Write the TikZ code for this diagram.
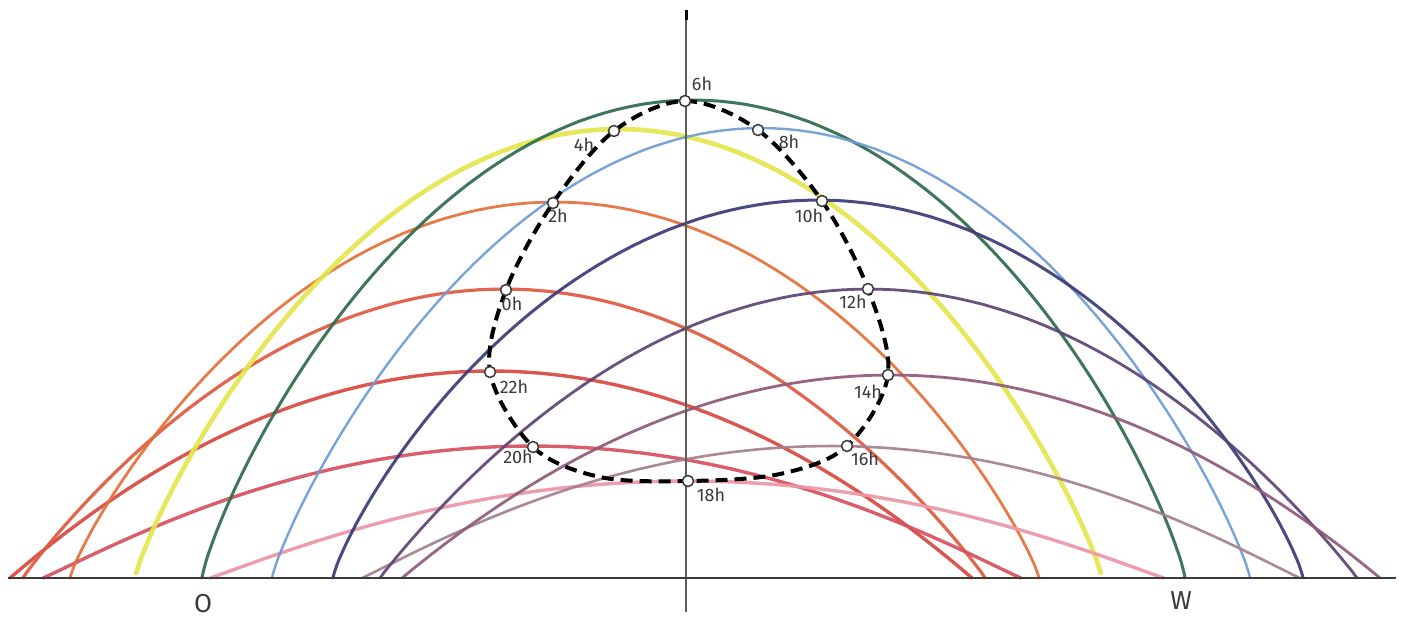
\documentclass[tikz,border=0pt]{standalone}
\usepackage{fontspec}
\setmainfont{Fira Sans}
\definecolor{cgreen}{HTML}{2F6B4C}
\definecolor{cyellow}{HTML}{E4E64C}
\definecolor{cblue}{HTML}{6D9CD4}
\definecolor{corange}{HTML}{E4703A}
\definecolor{cnavy}{HTML}{3A3B78}
\definecolor{credor}{HTML}{E05A3E}
\definecolor{cpurple}{HTML}{5C4474}
\definecolor{cred}{HTML}{D94840}
\definecolor{cmauve}{HTML}{8F5A78}
\definecolor{ccrimson}{HTML}{D8505F}
\definecolor{cgray}{HTML}{A3808F}
\definecolor{cpink}{HTML}{EC96A6}
\definecolor{caxis}{HTML}{5A6052}
\definecolor{cink}{HTML}{3A3A3A}
% #1 colour, #2 width, #3 left foot, #4 right foot, #5 height, #6 fullness exponent, #7 angle limit
\newcommand\skyarc[7]{%
  \draw[draw=#1, line width=#2, line cap=round, opacity=0.92]
    plot[domain=-#7:#7, samples=121, variable=\t]
    ({(#3+#4)/2 + (#4-#3)/2*sin(\t)}, {578 - #5*(max(cos(\t),0.00001))^(2*#6)});}
\tikzset{
  hc/.style={circle, draw=cink, line width=0.75pt, fill=white, inner sep=0pt, minimum size=5.5pt},
  hlab/.style={font=\fontsize{9}{9}\selectfont, text=cink, inner sep=0pt},
  dirlab/.style={font=\fontsize{13}{13}\selectfont, text=cink, inner sep=0pt},
  loop/.style={draw=black, line width=2pt, dash pattern=on 6pt off 3.5pt}
}
\begin{document}
\begin{tikzpicture}[x=0.5pt, y=-0.5pt]
\useasboundingbox[fill=white] (0,0) rectangle (1410,617);
% sun paths
\skyarc{cred}{1.7pt}{10}{972}{207}{1}{90}
\skyarc{credor}{1.6pt}{23}{985}{289}{0.95}{90}
\skyarc{ccrimson}{1.7pt}{43}{1021}{132}{1.05}{90}
\skyarc{corange}{1.4pt}{70}{1039}{376}{0.85}{90}
\skyarc{cyellow}{2.3pt}{135}{1102}{449}{0.85}{86}
\skyarc{cgreen}{1.5pt}{202}{1185}{478}{0.82}{90}
\skyarc{cpink}{1.7pt}{210}{1164}{97}{1.05}{90}
\skyarc{cblue}{1.2pt}{272}{1250}{450}{0.85}{90}
\skyarc{cnavy}{1.5pt}{333}{1303}{378}{0.82}{90}
\skyarc{cgray}{1.3pt}{362}{1300}{132}{1.05}{90}
\skyarc{cpurple}{1.4pt}{380}{1357}{289}{0.97}{90}
\skyarc{cmauve}{1.4pt}{402}{1380}{203}{1}{90}
% axes
\coordinate (axtop) at (686,10);
\coordinate (axtick) at (686,20);
\coordinate (axbot) at (686,612);
\coordinate (bl) at (8,578);
\coordinate (br) at (1396,578);
\draw[caxis, line width=0.6pt] (axtop) -- (axbot);
\draw[black, line width=1.5pt] (axtop) -- (axtick);
\draw[cink, line width=0.7pt] (bl) -- (br);
% hour points
\coordinate (p6) at (685,101);
\coordinate (p8) at (758,130);
\coordinate (p10) at (822,201);
\coordinate (p12) at (868,289);
\coordinate (p14) at (888,375);
\coordinate (p16) at (847,446);
\coordinate (q16) at (780,474);
\coordinate (p18) at (688,481);
\coordinate (q18) at (600,477);
\coordinate (p20) at (533,447);
\coordinate (p22) at (490,372);
\coordinate (p0) at (506,290);
\coordinate (p2) at (553,203);
\coordinate (p4) at (614,131);
\draw[loop] plot[smooth cycle, tension=0.55] coordinates {(p6) (p8) (p10) (p12) (p14) (p16) (q16) (p18) (q18) (p20) (p22) (p0) (p2) (p4)};
\foreach \h in {6,8,10,12,14,16,18,20,22,0,2,4}{\node[hc] (c\h) at (p\h) {};}
% labels
\node[hlab] (l6) at (702,84) {6h};
\node[hlab] (l4) at (584,145) {4h};
\node[hlab] (l8) at (789,142) {8h};
\node[hlab] (l2) at (558,216) {2h};
\node[hlab] (l10) at (809,216) {10h};
\node[hlab] (l0) at (512,304) {0h};
\node[hlab] (l12) at (853,302) {12h};
\node[hlab] (l22) at (514,387) {22h};
\node[hlab] (l14) at (868,392) {14h};
\node[hlab] (l20) at (518,457) {20h};
\node[hlab] (l16) at (865,459) {16h};
\node[hlab] (l18) at (711,495) {18h};
\node[dirlab] (lo) at (203,604) {O};
\node[dirlab] (lw) at (1181,601) {W};
\end{tikzpicture}
\end{document}
